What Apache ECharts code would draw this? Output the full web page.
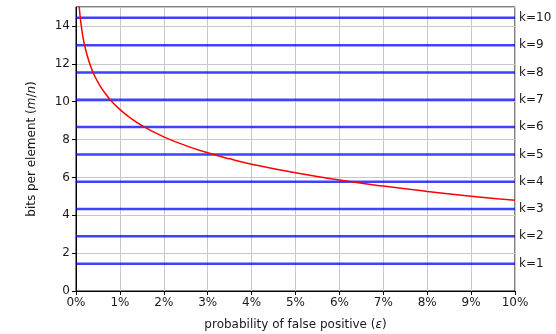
<!DOCTYPE html>
<html><head><meta charset="utf-8">
<script src="https://cdn.jsdelivr.net/npm/echarts@6/dist/echarts.min.js"></script>
<style>html,body{margin:0;padding:0;background:#fff}#c{width:556px;height:334px}</style>
</head><body><div id="c"></div>
<script>
// false-positive probability (%) and bits per element
const epsPct = [0.07, 0.08, 0.1, 0.15, 0.2, 0.3, 0.4, 0.5, 0.6, 0.8, 1.0, 1.2, 1.5, 2.0, 2.5, 3.0, 3.5, 4.0, 5.0, 6.0, 7.0, 8.0, 9.0, 10.0];
const bitsPerElem = [15.12, 14.84, 14.38, 13.53, 12.94, 12.09, 11.49, 11.03, 10.65, 10.05, 9.59, 9.21, 8.74, 8.14, 7.68, 7.30, 6.98, 6.70, 6.24, 5.86, 5.54, 5.26, 5.01, 4.79];
// horizontal lines for number of hash functions k
const kLabels = ['k=1','k=2','k=3','k=4','k=5','k=6','k=7','k=8','k=9','k=10'];
const kValues = [1.44, 2.89, 4.33, 5.77, 7.21, 8.66, 10.10, 11.54, 12.98, 14.43];
const xTicks = [0,1,2,3,4,5,6,7,8,9,10];

const font = 'DejaVu Sans';
const fs = 12;
const series = [];
kValues.forEach((v, i) => {
  series.push({
    type: 'line', data: [[0, v], [10, v]], symbol: 'none', silent: true,
    lineStyle: { color: 'rgba(0,0,255,0.75)', width: 2.5 },
    endLabel: { show: true, formatter: kLabels[i], distance: 4, color: '#1a1a1a', fontFamily: font, fontSize: fs },
    z: 2
  });
});
series.push({
  type: 'line', data: epsPct.map((e, i) => [e, bitsPerElem[i]]), symbol: 'none', smooth: true, clip: true,
  lineStyle: { color: '#ff0000', width: 1.5 }, z: 3
});

const chart = echarts.init(document.getElementById('c'));
chart.setOption({
  animation: false,
  grid: { left: 76, right: 41, top: 7, bottom: 43, show: true, borderColor: '#000', borderWidth: 1, containLabel: false, outerBoundsMode: 'none' },
  xAxis: {
    type: 'value', min: 0, max: 10, interval: 1,
    name: 'probability of false positive ({i|ε})', nameLocation: 'middle', nameGap: 28,
    nameTextStyle: { color: '#1a1a1a', fontFamily: font, fontSize: fs, rich: { i: { fontStyle: 'italic', fontFamily: font, fontSize: fs, color: '#1a1a1a' } } },
    axisLine: { show: true, lineStyle: { color: '#000', width: 1 } },
    axisTick: { show: true, length: 4, lineStyle: { color: '#000' } },
    axisLabel: { formatter: v => xTicks.includes(v) ? v + '%' : '', color: '#1a1a1a', fontFamily: font, fontSize: fs, margin: 6 },
    splitLine: { show: true, lineStyle: { color: '#c8c8c8', width: 1 } }
  },
  yAxis: {
    type: 'value', min: 0, max: 15, interval: 2,
    name: 'bits per element ({i|m}/{i|n})', nameLocation: 'middle', nameGap: 38,
    nameTextStyle: { color: '#1a1a1a', fontFamily: font, fontSize: fs, rich: { i: { fontStyle: 'italic', fontFamily: font, fontSize: fs, color: '#1a1a1a' } } },
    axisLine: { show: true, lineStyle: { color: '#000', width: 1 } },
    axisTick: { show: true, length: 4, lineStyle: { color: '#000' } },
    axisLabel: { color: '#1a1a1a', fontFamily: font, fontSize: fs, margin: 6, showMaxLabel: false },
    splitLine: { show: true, lineStyle: { color: '#c8c8c8', width: 1 } }
  },
  series: series
});
</script></body></html>
